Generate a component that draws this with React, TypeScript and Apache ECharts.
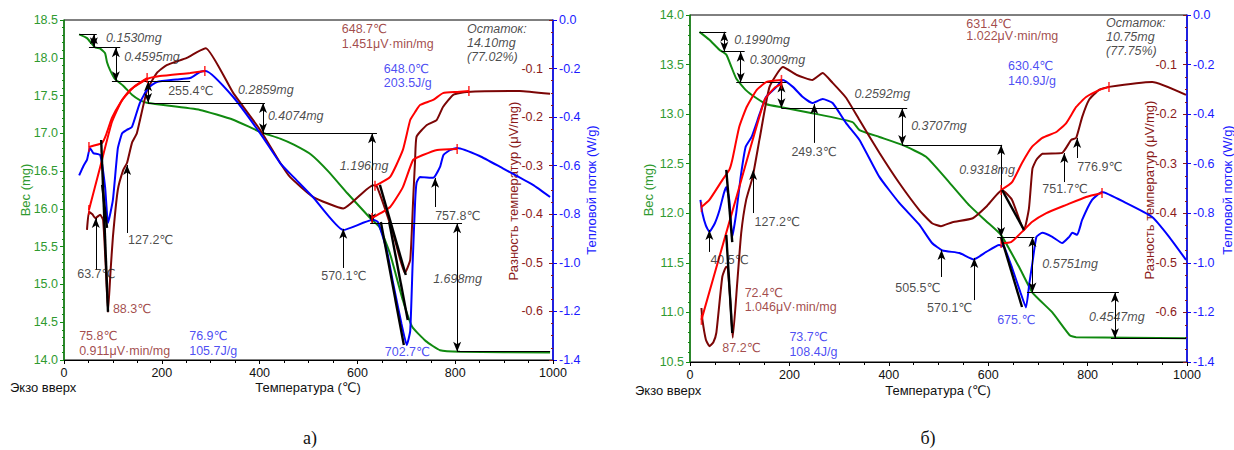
import { useEffect, useRef } from "react";
import * as echarts from "echarts";

type P = [number, number];
type Seg = [number, number, number];
type Txt = [number, number, string, string];

// ---------------- Panel а) ----------------
const tgA: P[] = [[31,18.31],[47,18.26],[63,18.14],[74,18.12],[84,18.06],[88,17.94],[94,17.84],[104,17.72],[121,17.63],[139,17.51],[155,17.44],[172,17.40],[278,17.31],[346,17.18],[401,17.02],[442,16.93],[470,16.85],[505,16.72],[540,16.50],[579,16.21],[626,15.88],[645,15.76],[667,15.40],[693,14.79],[712,14.44],[740,14.25],[769,14.13],[810,14.11],[994,14.10]];
const dscA: P[] = [[31,-0.64],[40,-0.60],[47,-0.576],[53,-0.527],[60,-0.548],[74,-0.556],[84,-0.687],[90,-0.836],[100,-0.741],[110,-0.53],[119,-0.466],[128,-0.453],[139,-0.44],[155,-0.342],[172,-0.28],[190,-0.255],[230,-0.245],[258,-0.239],[278,-0.214],[290,-0.21],[346,-0.317],[401,-0.466],[442,-0.589],[469,-0.646],[509,-0.729],[571,-0.865],[632,-0.823],[642,-0.832],[660,-0.947],[673,-1.083],[690,-1.25],[701,-1.338],[708,-1.28],[713,-1.0],[718,-0.75],[721,-0.67],[728,-0.646],[755,-0.65],[769,-0.605],[776,-0.556],[790,-0.535],[804,-0.527],[850,-0.56],[892,-0.605],[959,-0.679],[994,-0.729]];
const dtaA: P[] = [[47,-0.432],[51,-0.395],[58,-0.40],[64,-0.408],[74,-0.401],[80,-0.412],[85,-0.50],[90,-0.601],[95,-0.52],[100,-0.447],[110,-0.35],[121,-0.309],[129,-0.294],[139,-0.253],[149,-0.233],[170,-0.144],[190,-0.109],[210,-0.093],[251,-0.078],[272,-0.066],[290,-0.058],[346,-0.15],[401,-0.226],[442,-0.294],[462,-0.323],[509,-0.364],[571,-0.388],[632,-0.34],[640,-0.343],[673,-0.439],[697,-0.521],[708,-0.494],[714,-0.37],[718,-0.288],[721,-0.24],[742,-0.216],[762,-0.206],[775,-0.179],[796,-0.154],[824,-0.148],[932,-0.146],[994,-0.152]];
// integration curves (heat-flow axis units)
const redA1: P[] = [[51,-0.523],[78,-0.506],[86,-0.473],[98,-0.403],[115,-0.342],[135,-0.288],[170,-0.243],[196,-0.231],[258,-0.218],[288,-0.21]];
const redA2: P[] = [[51,-0.782],[74,-0.605],[98,-0.42],[119,-0.329],[145,-0.272],[170,-0.239]];
const redA3: P[] = [[636,-0.683],[667,-0.646],[693,-0.535],[708,-0.412],[718,-0.379],[728,-0.35],[755,-0.329],[775,-0.301],[804,-0.296],[828,-0.292]];
const redA4: P[] = [[630,-0.815],[667,-0.77],[693,-0.688],[714,-0.576],[734,-0.556],[763,-0.535],[804,-0.531]];
// onset tangents (heat-flow axis units)
const tangentsA: P[][] = [[[76,-0.494],[90,-1.202]],[[78,-0.679],[88,-0.856]],[[646,-0.679],[699,-1.05]],[[648,-0.832],[695,-1.338]],[[665,-0.832],[703,-1.235]]];
// weight steps: [tStart, tEnd, mg]
const stepLinesA: Seg[] = [[31,67,18.31],[51,115,18.14],[98,258,17.69],[172,411,17.40],[407,640,17.0],[626,814,15.81],[804,994,14.11]];
// step arrows: [t, mgTop, mgBottom]
const stepArrowsA: Seg[] = [[61,18.31,18.14],[106,18.14,17.69],[172,17.69,17.40],[407,17.40,17.0],[630,17.0,15.81],[804,15.81,14.11]];
// peak arrows: [t, from, to] (heat-flow axis units)
const peakArrowsA: Seg[] = [[129,-0.877,-0.597],[65,-1.029,-0.815],[571,-1.021,-0.86],[759,-0.77,-0.65]];
const textsA: Txt[] = [
  [86,18.26,"0.1530mg","i"],[123,18.01,"0.4595mg","i"],[213,17.56,"255.4℃","k"],
  [356,17.57,"0.2859mg","i"],[417,17.23,"0.4074mg","i"],[564,16.57,"1.196mg","i"],
  [755,15.07,"1.698mg","i"],[759,15.91,"757.8℃","k"],[526,15.11,"570.1℃","k"],
  [656,14.11,"702.7℃","b"],[131,15.59,"127.2℃","k"],[27,15.14,"63.7℃","k"],
  [100,14.68,"88.3℃","r"],[31,14.32,"75.8℃","r"],[31,14.12,"0.911μV·min/mg","r"],
  [256,14.32,"76.9℃","b"],[256,14.12,"105.7J/g","b"],
  [568,18.38,"648.7℃","r"],[568,18.18,"1.451μV·min/mg","r"],
  [824,18.38,"Остаток:","i"],[824,18.19,"14.10mg","i"],[824,18.01,"(77.02%)","i"],
  [654,17.85,"648.0℃","b"],[654,17.67,"203.5J/g","b"],
];

// ---------------- Panel б) ----------------
const tgB: P[] = [[19,13.83],[39,13.75],[59,13.65],[73,13.60],[83,13.48],[93,13.36],[113,13.24],[134,13.16],[154,13.10],[184,13.07],[246,13.01],[327,12.92],[341,12.84],[381,12.77],[427,12.69],[475,12.57],[522,12.31],[562,12.08],[596,11.92],[626,11.78],[662,11.46],[689,11.20],[729,11.0],[764,10.77],[777,10.75],[998,10.74]];
const dscB: P[] = [[21,-0.746],[25,-0.80],[32,-0.85],[39,-0.875],[50,-0.84],[59,-0.79],[68,-0.72],[73,-0.694],[79,-0.746],[85,-0.896],[93,-0.799],[102,-0.653],[112,-0.532],[124,-0.492],[140,-0.40],[153,-0.331],[174,-0.29],[187,-0.262],[207,-0.29],[227,-0.331],[246,-0.355],[267,-0.339],[287,-0.355],[314,-0.436],[341,-0.504],[381,-0.653],[421,-0.758],[461,-0.845],[487,-0.92],[508,-0.95],[542,-0.96],[571,-0.986],[596,-0.956],[622,-0.928],[632,-0.936],[648,-1.02],[665,-1.12],[676,-1.18],[683,-1.08],[689,-1.0],[697,-0.895],[709,-0.879],[729,-0.895],[749,-0.92],[763,-0.895],[769,-0.879],[779,-0.887],[789,-0.827],[809,-0.746],[829,-0.714],[877,-0.758],[930,-0.815],[964,-0.895],[998,-0.988]];
const dtaB: P[] = [[23,-0.591],[25,-0.615],[32,-0.655],[39,-0.668],[47,-0.66],[53,-0.641],[65,-0.528],[73,-0.508],[76,-0.51],[81,-0.575],[86,-0.651],[95,-0.541],[103,-0.44],[113,-0.373],[126,-0.327],[140,-0.25],[160,-0.145],[187,-0.105],[215,-0.121],[246,-0.131],[267,-0.117],[287,-0.137],[314,-0.167],[341,-0.212],[381,-0.278],[421,-0.339],[461,-0.393],[487,-0.42],[505,-0.426],[528,-0.418],[569,-0.41],[596,-0.387],[628,-0.353],[648,-0.373],[672,-0.434],[682,-0.39],[689,-0.31],[697,-0.292],[709,-0.28],[749,-0.278],[767,-0.252],[777,-0.248],[789,-0.206],[803,-0.171],[823,-0.151],[843,-0.145],[930,-0.135],[998,-0.161]];
const redB1: P[] = [[23,-0.775],[39,-0.746],[65,-0.666],[79,-0.625],[85,-0.585],[99,-0.452],[114,-0.371],[134,-0.303],[154,-0.27],[184,-0.262]];
const redB2: P[] = [[23,-1.23],[89,-0.766],[150,-0.343],[170,-0.294],[184,-0.278]];
const redB3: P[] = [[626,-0.706],[648,-0.674],[668,-0.597],[688,-0.532],[709,-0.496],[737,-0.472],[757,-0.436],[777,-0.371],[797,-0.331],[823,-0.303],[843,-0.29]];
const redB4: P[] = [[626,-0.92],[646,-0.916],[668,-0.875],[688,-0.835],[717,-0.799],[757,-0.766],[797,-0.734],[829,-0.718]];
const tangentsB: P[][] = [[[73,-0.625],[85,-0.916]],[[73,-0.887],[85,-1.283]],[[628,-0.706],[672,-0.867]],[[626,-0.896],[668,-1.178]]];
const stepLinesB: Seg[] = [[19,73,13.83],[63,110,13.63],[93,194,13.32],[184,437,13.06],[427,628,12.69],[618,693,11.76],[678,863,11.20],[847,998,10.74]];
const stepArrowsB: Seg[] = [[69,13.83,13.63],[102,13.63,13.32],[184,13.32,13.06],[427,13.06,12.69],[626,12.69,11.76],[689,11.76,11.20],[855,11.20,10.74]];
const peakArrowsB: Seg[] = [[250,-0.516,-0.359],[127,-0.799,-0.625],[39,-0.956,-0.867],[506,-1.057,-0.948],[572,-1.15,-0.98],[753,-0.674,-0.557],[779,-0.577,-0.496]];
const textsB: Txt[] = [
  [89,13.75,"0.1990mg","i"],[120,13.55,"0.3009mg","i"],[331,13.20,"0.2592mg","i"],
  [445,12.88,"0.3707mg","i"],[542,12.44,"0.9318mg","i"],[204,12.62,"249.3℃","k"],
  [130,11.91,"127.2℃","k"],[41,11.53,"40.5℃","k"],
  [110,11.20,"72.4℃","r"],[110,11.05,"1.046μV·min/mg","r"],[65,10.64,"87.2℃","r"],
  [200,10.75,"73.7℃","b"],[200,10.60,"108.4J/g","b"],
  [413,11.25,"505.5℃","k"],[477,11.04,"570.1℃","k"],[618,10.92,"675.℃","b"],
  [709,11.49,"0.5751mg","i"],[803,10.95,"0.4547mg","i"],
  [709,12.24,"751.7℃","k"],[779,12.47,"776.9℃","k"],
  [556,13.91,"631.4℃","r"],[556,13.79,"1.022μV·min/mg","r"],
  [837,13.92,"Остаток:","i"],[837,13.78,"10.75mg","i"],[837,13.64,"(77.75%)","i"],
  [640,13.49,"630.4℃","b"],[640,13.33,"140.9J/g","b"],
];

const C = {
  tg: "#108a10", tgLabel: "#2f9a2f", dsc: "#0000ff", dscLabel: "#1a1aff",
  dta: "#7b0505", dtaLabel: "#8b1a1a", red: "#ff0000", ink: "#1a1a1a",
};
const FONT = "'Liberation Sans', Arial, 'DejaVu Sans', sans-serif";

const panels = [
  { tg: tgA, dsc: dscA, dta: dtaA, reds: [redA1, redA2, redA3, redA4], tangents: tangentsA,
    steps: stepLinesA, stepArrows: stepArrowsA, peaks: peakArrowsA, texts: textsA,
    wMin: 14, wMax: 18.5, grid: { left: 64, top: 20, width: 489, height: 340 } },
  { tg: tgB, dsc: dscB, dta: dtaB, reds: [redB1, redB2, redB3, redB4], tangents: tangentsB,
    steps: stepLinesB, stepArrows: stepArrowsB, peaks: peakArrowsB, texts: textsB,
    wMin: 10.5, wMax: 14, grid: { left: 690, top: 15, width: 497, height: 347 } },
];

function textColor(k: string) {
  if (k === "r") return C.dtaLabel;
  if (k === "b") return "#2020f0";
  return C.ink;
}

function buildOption(): any {
  const grid: any[] = [];
  const xAxis: any[] = [];
  const yAxis: any[] = [];
  const series: any[] = [];
  const graphic: any[] = [];

  panels.forEach((p, i) => {
    grid.push({ ...p.grid, show: true, borderColor: "#000", borderWidth: 1, containLabel: false });
    xAxis.push({
      type: "value", gridIndex: i, min: 0, max: 1000, interval: 200,
      axisLine: { onZero: false, lineStyle: { color: "#000", width: 1 } },
      axisTick: { length: 4, lineStyle: { color: "#000" } },
      minorTick: { show: true, splitNumber: 4, length: 3, lineStyle: { color: "#000" } },
      axisLabel: { color: "#111", fontSize: 12.5, margin: 6, fontFamily: FONT, formatter: (v: number) => String(v) },
      splitLine: { show: false }, minorSplitLine: { show: false },
    });
    yAxis.push({
      type: "value", gridIndex: i, position: "left", min: p.wMin, max: p.wMax, interval: 0.5,
      axisLine: { show: true, onZero: false, lineStyle: { color: C.tg, width: 1.5 } },
      axisTick: { show: true, length: 4, lineStyle: { color: C.tg } },
      minorTick: { show: true, splitNumber: 5, length: 2, lineStyle: { color: C.tg } },
      axisLabel: { color: C.tgLabel, fontSize: 12.5, margin: 6, fontFamily: FONT, formatter: (v: number) => v.toFixed(1) },
      splitLine: { show: false },
    });
    yAxis.push({
      type: "value", gridIndex: i, position: "right", offset: 0, min: -0.7, max: 0, interval: 0.1,
      axisLine: { show: false, onZero: false },
      axisTick: { show: true, inside: true, length: 4, lineStyle: { color: C.dtaLabel } },
      minorTick: { show: true, splitNumber: 4, length: 2, lineStyle: { color: C.dtaLabel } },
      axisLabel: {
        inside: true, margin: 10, color: C.dtaLabel, fontSize: 12.5, fontFamily: FONT,
        formatter: (v: number) => (v > -0.05 || v < -0.65 ? "" : v.toFixed(1)),
      },
      splitLine: { show: false },
    });
    yAxis.push({
      type: "value", gridIndex: i, position: "right", offset: 0, min: -1.4, max: 0, interval: 0.2,
      axisLine: { show: true, onZero: false, lineStyle: { color: C.dsc, width: 1.5 } },
      axisTick: { show: true, length: 4, lineStyle: { color: C.dsc } },
      axisLabel: { color: C.dscLabel, fontSize: 12.5, margin: 6, fontFamily: FONT, formatter: (v: number) => v.toFixed(1) },
      splitLine: { show: false },
    });

    const b = i * 3;
    const base = { xAxisIndex: i, silent: true, animation: false };
    const curve = (data: P[], y: number, color: string, width: number, z: number) => ({
      ...base, type: "line", yAxisIndex: y, data, symbol: "none", showSymbol: false,
      smooth: 0.15, lineStyle: { color, width }, z,
    });
    series.push(curve(p.tg, b, C.tg, 2, 3));
    series.push(curve(p.dta, b + 1, C.dta, 2, 3));
    series.push(curve(p.dsc, b + 2, C.dsc, 2, 4));
    p.reds.forEach((r) => series.push(curve(r, b + 2, C.red, 2, 5)));
    series.push({
      ...base, type: "scatter", yAxisIndex: b + 2, symbol: "rect", symbolSize: [1.6, 10],
      itemStyle: { color: C.red }, z: 6,
      data: p.reds.flatMap((r) => [r[0], r[r.length - 1]]),
    });
    p.tangents.forEach((t) => series.push({
      ...base, type: "line", yAxisIndex: b + 2, data: t, symbol: "none", showSymbol: false,
      lineStyle: { color: "#000", width: 2.4 }, z: 7,
    }));
    const mlBase = { silent: true, label: { show: false }, emphasis: { disabled: true }, animation: false };
    series.push({
      ...base, type: "line", yAxisIndex: b, data: [], z: 8,
      markLine: { ...mlBase, symbol: ["none", "none"], lineStyle: { color: "#000", width: 1, type: "solid" },
        data: p.steps.map(([t1, t2, w]) => [{ coord: [t1, w] }, { coord: [t2, w] }]) },
    });
    series.push({
      ...base, type: "line", yAxisIndex: b, data: [], z: 8,
      markLine: { ...mlBase, symbol: ["arrow", "arrow"], symbolSize: [6, 10], lineStyle: { color: "#000", width: 1, type: "solid" },
        data: p.stepArrows.map(([t, w1, w2]) => [{ coord: [t, w1] }, { coord: [t, w2] }]) },
    });
    series.push({
      ...base, type: "line", yAxisIndex: b + 2, data: [], z: 8,
      markLine: { ...mlBase, symbol: ["none", "arrow"], symbolSize: [6, 10], lineStyle: { color: "#000", width: 1, type: "solid" },
        data: p.peaks.map(([t, v1, v2]) => [{ coord: [t, v1] }, { coord: [t, v2] }]) },
    });
    series.push({
      ...base, type: "scatter", yAxisIndex: b, symbolSize: 0, clip: false, z: 9,
      itemStyle: { color: "rgba(0,0,0,0)" },
      label: { show: true, position: "right", distance: 0, formatter: "{b}", fontSize: 12.5, fontFamily: FONT },
      data: p.texts.map(([t, w, s, k]) => ({
        value: [t, w], name: s,
        label: { color: textColor(k), fontStyle: k === "i" ? "italic" : "normal" },
      })),
    });
  });

  const title = (x: number, y: number, text: string, fill: string, rot = 0, align = "center", size = 13, family = FONT) => ({
    type: "text", x, y, rotation: rot, silent: true,
    style: { text, fill, fontSize: size, fontFamily: family, align, verticalAlign: "middle", textAlign: align, textVerticalAlign: "middle" },
  });
  const R = Math.PI / 2;
  graphic.push(title(25, 190, "Вес (mg)", C.tgLabel, R));
  graphic.push(title(513, 191, "Разность температур (μV/mg)", C.dtaLabel, R));
  graphic.push(title(591, 190, "Тепловой поток (W/g)", C.dscLabel, R));
  graphic.push(title(308, 387, "Температура (℃)", "#111"));
  graphic.push(title(10, 387, "Экзо вверх", "#111", 0, "left"));
  graphic.push(title(648, 190, "Вес (mg)", C.tgLabel, R));
  graphic.push(title(1149, 190, "Разность температур (μV/mg)", C.dtaLabel, R));
  graphic.push(title(1227, 190, "Тепловой поток (W/g)", C.dscLabel, R));
  graphic.push(title(938, 390, "Температура (℃)", "#111"));
  graphic.push(title(635, 390, "Экзо вверх", "#111", 0, "left"));
  graphic.push(title(310, 438, "а)", "#111", 0, "center", 18, "'Liberation Serif', 'DejaVu Serif', serif"));
  graphic.push(title(928, 438, "б)", "#111", 0, "center", 18, "'Liberation Serif', 'DejaVu Serif', serif"));

  return { animation: false, backgroundColor: "#fff", grid, xAxis, yAxis, series, graphic };
}

export default function App() {
  const ref = useRef<HTMLDivElement>(null);
  useEffect(() => {
    const chart = echarts.init(ref.current!, null, { renderer: "svg" });
    chart.setOption(buildOption());
    return () => chart.dispose();
  }, []);
  return <div ref={ref} style={{ position: "absolute", left: 0, top: 0, width: 1234, height: 450 }} />;
}
